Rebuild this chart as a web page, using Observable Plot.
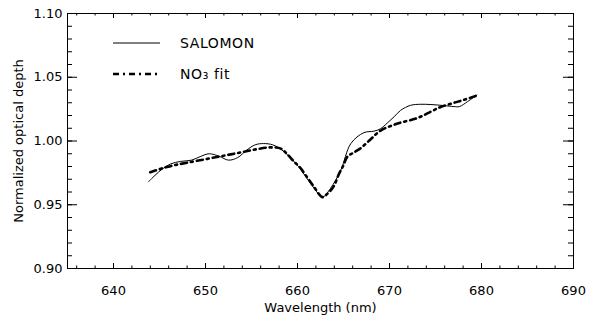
<!DOCTYPE html>
<html>
<head>
<meta charset="utf-8">
<script src="https://cdn.jsdelivr.net/npm/d3@7"></script>
<script src="https://cdn.jsdelivr.net/npm/@observablehq/plot@0.6"></script>
<style>
  html, body { margin: 0; padding: 0; background: #fff; }
</style>
</head>
<body>
<div id="chart"></div>
<script>
// ---- data ----
const salomonWl = [643.8, 644.5, 645.3, 646.2, 647.3, 648.5, 649.5, 650.4, 651.5, 652.5, 653.5, 654.5, 655.4, 656.3, 657.3, 658.3, 659.2, 660.1, 661.0, 661.9, 662.7, 663.6, 664.7, 665.8, 667.2, 668.3, 669.0, 669.75, 670.5, 671.2, 672.3, 673.4, 674.5, 675.9, 677.0, 677.6, 678.5, 679.5];
const salomonVal = [0.968, 0.973, 0.978, 0.982, 0.984, 0.985, 0.988, 0.990, 0.988, 0.985, 0.987, 0.993, 0.997, 0.998, 0.997, 0.993, 0.987, 0.980, 0.971, 0.962, 0.956, 0.963, 0.977, 0.998, 1.0065, 1.0077, 1.0095, 1.014, 1.019, 1.024, 1.028, 1.0288, 1.0286, 1.0278, 1.027, 1.027, 1.031, 1.036];

const fitWl = [644.0, 645.5, 646.6, 648.0, 650.2, 652.0, 653.8, 655.5, 657.1, 658.2, 658.9, 659.6, 660.3, 661.1, 661.8, 662.7, 663.3, 663.9, 664.5, 665.0, 665.4, 666.0, 666.8, 667.9, 669.0, 670.8, 673.0, 674.5, 675.5, 676.8, 678.1, 679.5];
const fitVal = [0.9755, 0.979, 0.981, 0.983, 0.986, 0.9885, 0.991, 0.9935, 0.995, 0.994, 0.9895, 0.984, 0.979, 0.971, 0.964, 0.956, 0.959, 0.964, 0.974, 0.981, 0.9875, 0.9905, 0.994, 1.001, 1.008, 1.0135, 1.018, 1.023, 1.0265, 1.0295, 1.0323, 1.0357];

const seriesNames = ["SALOMON", "NO\u2083 fit"];
const xTickLabels = [640, 650, 660, 670, 680, 690];
const yTickLabels = [0.90, 0.95, 1.00, 1.05, 1.10];
const xMinor = d3.range(636, 690, 2);
const yMinor = d3.range(0.91, 1.10, 0.01).map(v => +v.toFixed(2));
const xTitle = "Wavelength (nm)";
const yTitle = "Normalized optical depth";

const salomon = salomonWl.map((x, i) => ({x, y: salomonVal[i]}));
const fit = fitWl.map((x, i) => ({x, y: fitVal[i]}));

const W = 594, H = 315, ML = 67, MR = 21, MT = 13, MB = 47;
const PW = W - ML - MR, PH = H - MT - MB;
const FONT = "DejaVu Sans";
const DASH = "6,4,2,4";

function legendMark(index, scales, values, dimensions) {
  const g = d3.create("svg:g").attr("font-family", FONT).attr("font-size", 14)
    .attr("fill", "black").attr("text-anchor", "start");
  const rows = [
    {name: seriesNames[0], dy: 30, width: 1, dash: null},
    {name: seriesNames[1], dy: 61, width: 2.6, dash: DASH}
  ];
  for (const r of rows) {
    const y = dimensions.marginTop + r.dy;
    const x0 = dimensions.marginLeft + 46;
    g.append("line").attr("x1", x0).attr("x2", x0 + 47).attr("y1", y).attr("y2", y)
      .attr("stroke", "black").attr("stroke-width", r.width)
      .attr("stroke-dasharray", r.dash);
    g.append("text").attr("x", x0 + 67).attr("y", y).attr("dy", "0.35em")
      .attr("letter-spacing", "0.6px").text(r.name);
  }
  return g.node();
}

const chart = Plot.plot({
  width: W, height: H,
  marginLeft: ML, marginRight: MR, marginTop: MT, marginBottom: MB,
  x: {domain: [635, 690]},
  y: {domain: [0.90, 1.10]},
  style: {fontFamily: FONT, fontSize: "13px", color: "black", background: "white", overflow: "visible"},
  marks: [
    Plot.frame({stroke: "black", strokeWidth: 1}),
    Plot.ruleX(xTickLabels, {insetTop: PH - 5, stroke: "black"}),
    Plot.ruleX(xTickLabels, {insetBottom: PH - 5, stroke: "black"}),
    Plot.ruleX(xMinor, {insetTop: PH - 2.5, stroke: "black"}),
    Plot.ruleX(xMinor, {insetBottom: PH - 2.5, stroke: "black"}),
    Plot.ruleY(yTickLabels, {insetRight: PW - 10, stroke: "black"}),
    Plot.ruleY(yTickLabels, {insetLeft: PW - 10, stroke: "black"}),
    Plot.ruleY(yMinor, {insetRight: PW - 5, stroke: "black"}),
    Plot.ruleY(yMinor, {insetLeft: PW - 5, stroke: "black"}),
    Plot.axisX({ticks: xTickLabels, tickSize: 0, tickPadding: 17, tickFormat: d => String(d), label: null}),
    Plot.axisY({ticks: yTickLabels, tickSize: 0, tickPadding: 5, tickFormat: d3.format(".2f"), label: null}),
    Plot.text([xTitle], {frameAnchor: "bottom", dy: 39, lineAnchor: "middle", fontSize: 13}),
    Plot.text([yTitle], {frameAnchor: "left", dx: -49, rotate: -90, lineAnchor: "middle", textAnchor: "middle", fontSize: 13}),
    Plot.line(salomon, {x: "x", y: "y", stroke: "black", strokeWidth: 1, curve: "catmull-rom"}),
    Plot.line(fit, {x: "x", y: "y", stroke: "black", strokeWidth: 2.6, strokeDasharray: DASH, curve: "catmull-rom"}),
    legendMark
  ]
});
document.getElementById("chart").appendChild(chart);
</script>
</body>
</html>
